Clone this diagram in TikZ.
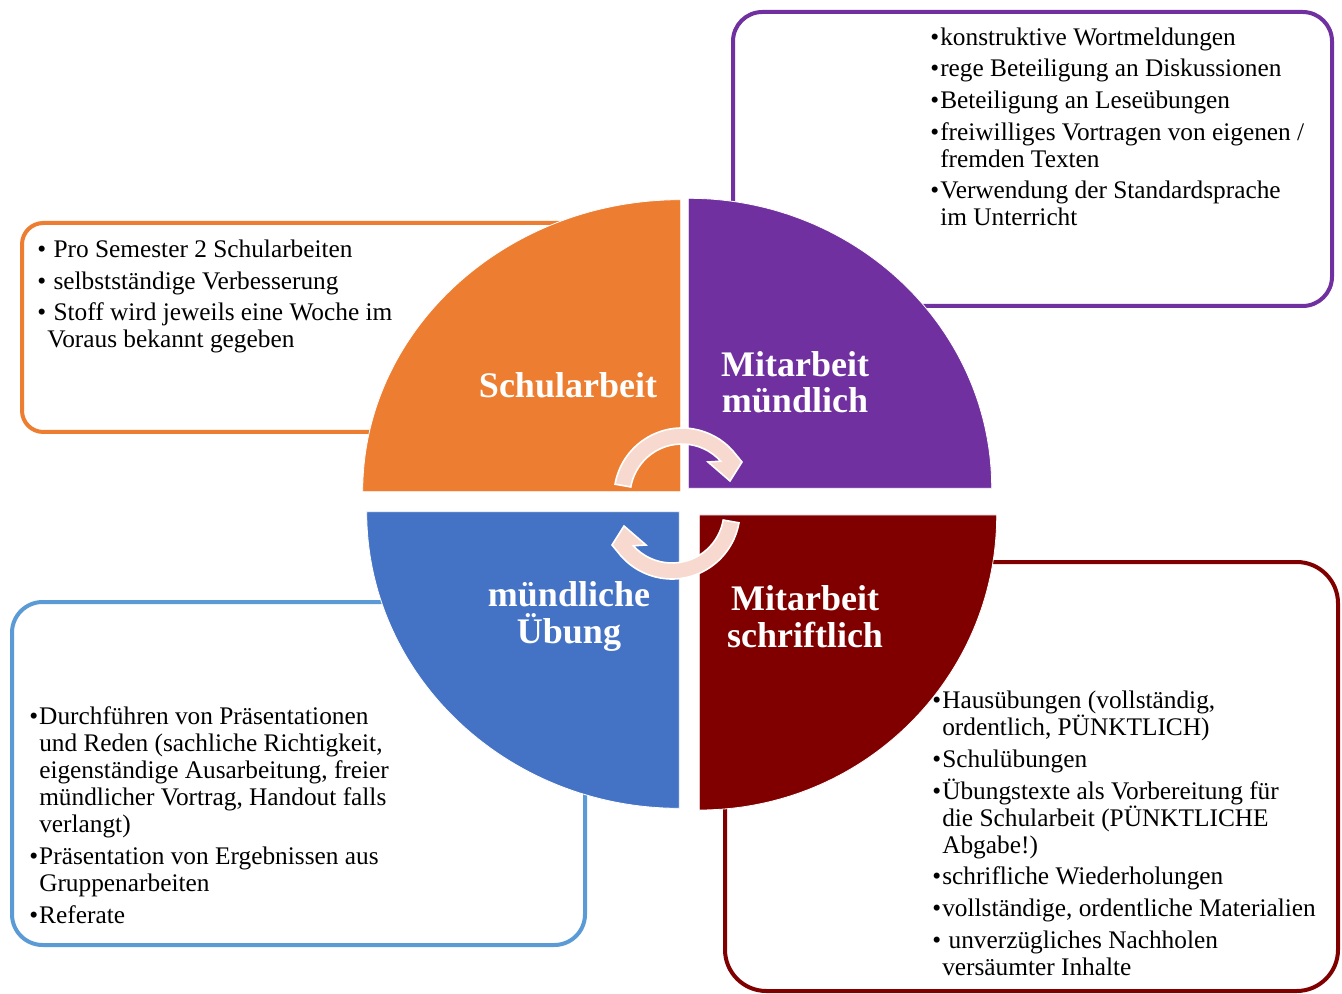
\documentclass[tikz,border=0pt]{standalone}
\usepackage{fontspec}
\setmainfont{Liberation Serif}
\definecolor{schorange}{HTML}{ED7D31}
\definecolor{mitpurple}{HTML}{7030A0}
\definecolor{ueblue}{HTML}{4472C4}
\definecolor{ueline}{HTML}{5B9BD5}
\definecolor{schred}{HTML}{800000}
\definecolor{cyclepink}{HTML}{F7D9CF}
\newcommand{\bul}{\makebox[7.5pt][l]{\textbullet}}
\newcommand{\ind}{\hspace*{7.5pt}}

\begin{document}
\begin{tikzpicture}
  [x=0.75pt,y=-0.75pt,
   box/.style={draw,line width=3pt,fill=white,inner sep=0pt},
   title/.style={text=white,font=\fontsize{27}{27.5}\selectfont\bfseries,align=center,anchor=base},
   list/.style={font=\fontsize{19}{20.25}\selectfont,align=left,anchor=base west,inner sep=0pt},
   arrowfill/.style={fill=cyclepink,draw=white,line width=1.2pt}]
\useasboundingbox (0,0) rectangle (1342,994);

% boxes behind the quarters
\node (b1)[box,draw=schorange,rounded corners=16pt,minimum width=486pt,minimum height=156.75pt] at (346,327.5) {};
\node (b2)[box,draw=mitpurple,rounded corners=22pt,minimum width=449.25pt,minimum height=220.5pt] at (1032.5,159) {};
\node (b3)[box,draw=ueline,rounded corners=23pt,minimum width=429.75pt,minimum height=257.25pt] at (298.5,773.5) {};
\node (b4)[box,draw=schred,rounded corners=31pt,minimum width=459.75pt,minimum height=321.75pt] at (1031.5,776.5) {};

% quarters
\foreach \cx/\cy/\rx/\ry/\a/\col in {680.7/491.7/318/292/180/schorange,
    688.3/488.3/303.4/290/270/mitpurple, 679.3/511.7/312.6/296.6/90/ueblue,
    699.3/515/297.4/295/0/schred}
  \filldraw[fill=\col,draw=white,line width=0.6pt] (\cx,\cy) -- ++({\rx*cos(\a)},{\ry*sin(\a)})
    arc[start angle=\a,delta angle=90,x radius=\rx,y radius=\ry] -- cycle;

% cycle arrows
\foreach \r in {0,180}
  \filldraw[arrowfill,rotate around={\r:(677,503.5)}]
    ([shift={(682,496)}]190:68) arc[start angle=190,end angle=318,radius=68]
    -- (742,462) -- (730,481) -- (708,462)
    -- ([shift={(682,496)}]318:52) arc[start angle=318,end angle=190,radius=52] -- cycle;

% titles (anchor on last baseline)
\node (t1)[title] at (568,398) {Schularbeit};
\node (t2)[title] at (795,413) {Mitarbeit\\mündlich};
\node (t3)[title] at (569,643) {mündliche\\Übung};
\node (t4)[title] at (805,647) {Mitarbeit\\schriftlich};

\node (l1)[list] at (37,348) {\bul\ Pro Semester 2 Schularbeiten\\[3.5pt]\bul\ selbstständige Verbesserung\\[3.5pt]\bul\ Stoff wird jeweils eine Woche im\\\ind Voraus bekannt gegeben};
\node (l2)[list] at (930,226) {\bul konstruktive Wortmeldungen\\[3.5pt]\bul rege Beteiligung an Diskussionen\\[3.5pt]\bul Beteiligung an Leseübungen\\[3.5pt]\bul freiwilliges Vortragen von eigenen /\\\ind fremden Texten\\[3.5pt]\bul Verwendung der Standardsprache\\\ind im Unterricht};
\node (l3)[list] at (29,923) {\bul Durchführen von Präsentationen\\\ind und Reden (sachliche Richtigkeit,\\\ind eigenständige Ausarbeitung, freier\\\ind mündlicher Vortrag, Handout falls\\\ind verlangt)\\[3.5pt]\bul Präsentation von Ergebnissen aus\\\ind Gruppenarbeiten\\[3.5pt]\bul Referate};
\node (l4)[list] at (932,975) {\bul Hausübungen (vollständig,\\\ind ordentlich, PÜNKTLICH)\\[3.5pt]\bul Schulübungen\\[3.5pt]\bul Übungstexte als Vorbereitung für\\\ind die Schularbeit (PÜNKTLICHE\\\ind Abgabe!)\\[3.5pt]\bul schrifliche Wiederholungen\\[3.5pt]\bul vollständige, ordentliche Materialien\\[3.5pt]\bul\ unverzügliches Nachholen\\\ind versäumter Inhalte};
\end{tikzpicture}
\end{document}
